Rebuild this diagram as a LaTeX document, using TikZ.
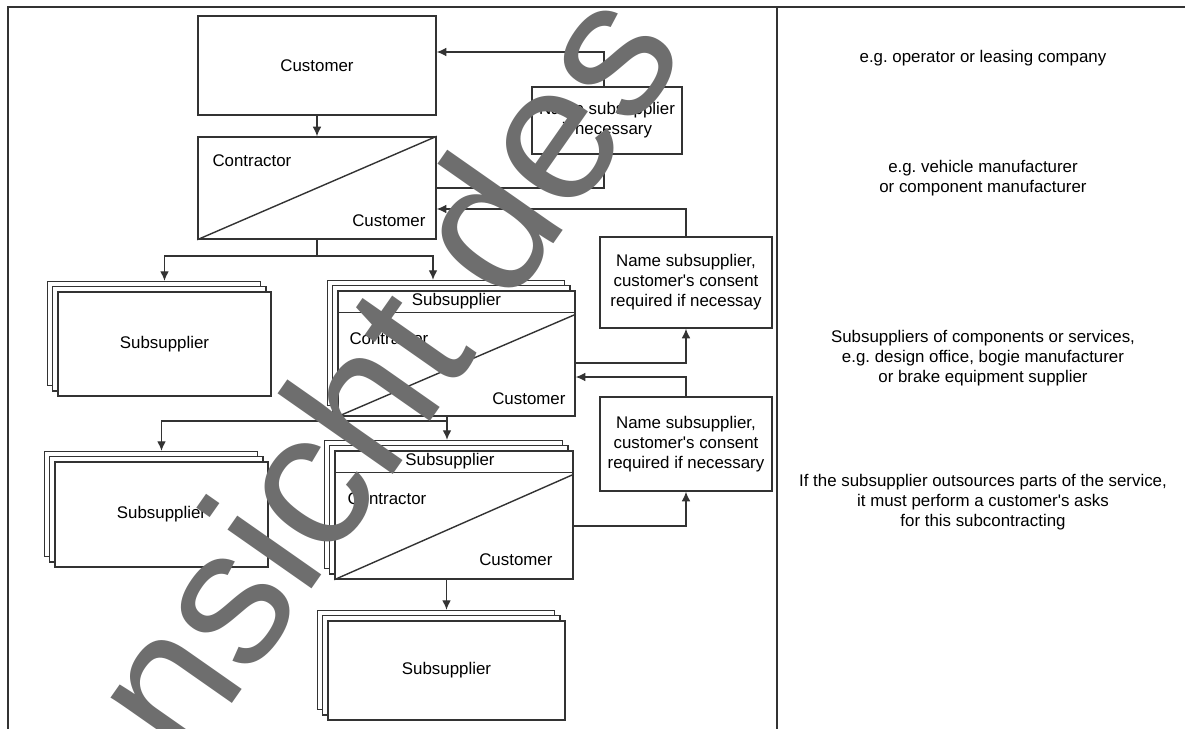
\documentclass[tikz,border=0pt]{standalone}
\usepackage{fontspec}
\setmainfont{Liberation Sans}
\usepackage{tikz}
\usetikzlibrary{arrows.meta}
\usetikzlibrary{calc}
\usetikzlibrary{shadows}
\tikzstyle{line} = [draw, -{Latex[length=2.4mm, width=2.2mm]}]
\definecolor{trait}{rgb}{0.2,0.2,0.2}
\definecolor{filigran}{rgb}{0.43,0.43,0.43}
\frenchspacing

\begin{document}
\begin{tikzpicture}[x=0.025cm, y=-0.025cm,
				font=\fontsize{12}{14.2}\selectfont,
				line/.append style = {draw=trait, line width=1pt},
				frame/.style = {draw=trait, line width=1.1pt},
				cutline/.style = {draw=trait, line width=1pt},
				box/.style = {draw=trait, fill=white, line width=1pt,
					inner sep=0pt, align=center},
				stack/.style = {box,
					copy shadow={shadow xshift=-0.26cm, shadow yshift=0.26cm, draw=trait, line width=1pt},
					copy shadow={shadow xshift=-0.13cm, shadow yshift=0.13cm, draw=trait, line width=1pt}},
				tostack/.style = {line, shorten >=0.26cm},
				tag/.style = {inner sep=0pt},
				filigree/.style = {anchor=base west, rotate=55, inner sep=0pt,
					text=filigran, font=\fontsize{138}{138}\selectfont}]
				
				\useasboundingbox (0,0) rectangle (1185,729);
				
				% Frame
				\draw[frame] (8,729) |- (1185,7);
				\draw[frame] (777,7) -- (777,729);
				
				% Customer
				\node[box, minimum width=5.95cm, minimum height=2.475cm] (cust) at (317,65.5) {Customer};
				
				% Contractor
				\node[box, minimum width=5.95cm, minimum height=2.55cm] (contr) at (317,188) {};
				\draw[cutline] (contr.south west) -- (contr.north east);
				\node[tag, anchor=west] (contr-a) at ($(contr.north west)+(15,24)$) {Contractor};
				\node[tag, anchor=east] (contr-b) at ($(contr.south east)+(-11,-19)$) {Customer};
				\draw[line] (cust) -- (contr);
				
				% Name subsupplier (top)
				\coordinate (k1) at (604,52);
				\draw[line] (contr.east) -| (k1) -- (k1 -| cust.east);
				\node[box, minimum width=3.75cm, minimum height=1.675cm] (ns1) at (607,120.5) {Name subsupplier\\if necessary};
				
				% Name subsupplier, customer's consent
				\node[box, minimum width=4.3cm, minimum height=2.275cm] (ns2) at (686,282.5) {Name subsupplier,\\customer\textquotesingle s consent\\required if necessay};
				\node[box, minimum width=4.3cm, minimum height=2.35cm] (ns3) at (686,444) {Name subsupplier,\\customer\textquotesingle s consent\\required if necessary};
				\coordinate (k2) at (0,209);
				\draw[line] (ns2.north) |- (k2 -| contr.east);
				
				% Second level
				\node[stack, minimum width=5.325cm, minimum height=2.6cm] (subA) at (164.5,344) {Subsupplier};
				\node[stack, minimum width=5.925cm, minimum height=3.125cm] (midA) at (456.5,353.5) {};
				\draw[cutline] ($(midA.north west)+(0,22)$) -- ($(midA.north east)+(0,22)$);
				\draw[cutline] (midA.south west) -- ($(midA.north east)+(0,24)$);
				\node[tag] (midA-s) at ($(midA.north)+(0,11)$) {Subsupplier};
				\node[tag, anchor=west] (midA-a) at ($(midA.north west)+(12,48)$) {Contractor};
				\node[tag, anchor=east] (midA-b) at ($(midA.south east)+(-10,-18)$) {Customer};
				
				\coordinate (j1) at (433,256);
				\draw[tostack] (contr.south) |- (j1) -- (j1 |- midA.north);
				\draw[tostack] (contr.south) |- (j1 -| subA.north) -- (subA.north);
				
				\coordinate (k4) at (0,363);
				\coordinate (k5) at (0,377);
				\draw[line] (k4 -| midA.east) -| (ns2.south);
				\draw[line] (ns3.north) |- (k5 -| midA.east);
				
				% Third level
				\node[stack, minimum width=5.325cm, minimum height=2.625cm] (subB) at (161.5,514.5) {Subsupplier};
				\node[stack, minimum width=5.95cm, minimum height=3.2cm] (midB) at (454,515) {};
				\draw[cutline] ($(midB.north west)+(0,22)$) -- ($(midB.north east)+(0,22)$);
				\draw[cutline] (midB.south west) -- ($(midB.north east)+(0,24)$);
				\node[tag] (midB-s) at ($(midB.north)+(-4,11)$) {Subsupplier};
				\node[tag, anchor=west] (midB-a) at ($(midB.north west)+(13,48)$) {Contractor};
				\node[tag, anchor=east] (midB-b) at ($(midB.south east)+(-21,-20)$) {Customer};
				
				\coordinate (j2) at (447,421);
				\draw[tostack] (j2 |- midA.south) -- (j2 |- midB.north);
				\draw[tostack] (j2 |- midA.south) |- (j2 -| subB.north) -- (subB.north);
				
				\coordinate (k6) at (0,526);
				\draw[line] (k6 -| midB.east) -| (ns3.south);
				
				% Fourth level
				\node[stack, minimum width=5.925cm, minimum height=2.475cm] (subC) at (446.5,670.5) {Subsupplier};
				\draw[tostack] (midB.south -| subC.north) -- (subC.north);
				
				% Notes
				\node[align=center] (note1) at (983,58) {e.g. operator or leasing company};
				\node[align=center] (note2) at (983,178) {e.g. vehicle manufacturer\\or component manufacturer};
				\node[align=center] (note3) at (983,358) {Subsuppliers of components or services,\\e.g. design office, bogie manufacturer\\or brake equipment supplier};
				\node[align=center] (note4) at (983,502) {If the subsupplier outsources parts of the service,\\it must perform a customer\textquotesingle s asks\\for this subcontracting};
				
				% Watermark
				\node[filigree] (wm) at (113,874) {Ansicht des};
				
			\end{tikzpicture}
\end{document}
